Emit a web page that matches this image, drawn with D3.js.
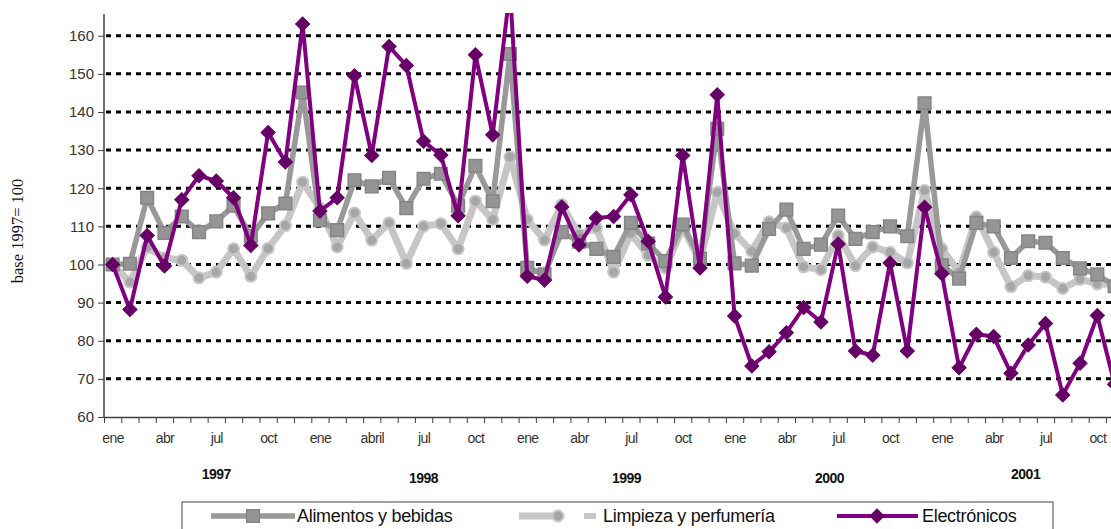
<!DOCTYPE html>
<html lang="es">
<head>
    <meta charset="UTF-8">
    <title>Índices base 1997</title>
    <script src="https://d3js.org/d3.v7.min.js"></script>
    <style>
        body { margin: 0; background: #fff; }
        text { font-family: "Liberation Sans", Arial, sans-serif; }
    </style>
</head>
<body>
    <div id="chart"></div>

    <script>
        // Monthly index, ene 1997 .. nov 2001 (base 1997 = 100)
        const alimentos = [
            100, 100.2, 117.5, 108.3, 112.6, 108.5, 111.3, 115.4, 107.4, 113.4,
            116.0, 145.1, 111.6, 109.0, 122.1, 120.5, 122.7, 114.8, 122.5, 123.8,
            115.4, 125.9, 116.6, 155.2, 99.1, 97.4, 108.5, 106.0, 104.1, 102.0,
            110.9, 105.5, 100.9, 110.5, 101.5, 135.6, 100.3, 99.7, 109.3, 114.4,
            104.1, 105.2, 112.8, 106.7, 108.5, 110.0, 107.4, 142.3, 99.8, 96.3,
            110.9, 110.0, 101.7, 106.1, 105.7, 101.7, 99.0, 97.4, 94.3
        ];
        const limpieza = [
            100, 95.4, 104.5, 101.7, 101.1, 96.5, 98.0, 104.1, 96.9, 104.2,
            110.2, 121.6, 114.8, 104.6, 113.5, 106.4, 110.9, 100.3, 110.0, 110.7,
            104.1, 116.6, 111.8, 128.2, 111.8, 106.4, 115.7, 107.9, 109.6, 98.0,
            108.1, 102.4, 99.1, 109.6, 101.0, 118.9, 108.1, 103.5, 111.2, 109.6,
            99.4, 98.7, 107.6, 99.7, 104.6, 103.2, 100.4, 119.4, 104.1, 98.0,
            112.5, 103.2, 94.2, 97.1, 96.7, 93.7, 96.1, 94.9, 94.8
        ];
        const electronicos = [
            100, 88.2, 107.6, 99.6, 117.0, 123.3, 121.9, 117.5, 105.0, 134.6,
            126.9, 163.1, 114.0, 117.5, 149.5, 128.6, 157.2, 152.2, 132.3, 128.7,
            112.8, 155.0, 134.0, 172.0, 96.9, 95.9, 115.1, 105.1, 112.2, 112.6,
            118.3, 106.1, 91.5, 128.6, 99.1, 144.5, 86.5, 73.4, 77.1, 82.1,
            88.7, 84.9, 105.4, 77.3, 76.2, 100.4, 77.3, 115.0, 97.6, 72.9,
            81.7, 81.1, 71.5, 78.9, 84.5, 65.8, 74.1, 86.6, 68.6
        ];

        const monthLabels = ["ene", "abr", "jul", "oct", "ene", "abril", "jul", "oct",
            "ene", "abr", "jul", "oct", "ene", "abr", "jul", "oct",
            "ene", "abr", "jul", "oct"];
        const yearLabels = ["1997", "1998", "1999", "2000", "2001"];
        const yearAnchor = [6, 18, 29.75, 41.5, 52.85];   // month index under which the year sits
        const yTicks = [60, 70, 80, 90, 100, 110, 120, 130, 140, 150, 160];
        const seriesNames = ["Alimentos y bebidas", "Limpieza y perfumería", "Electrónicos"];

        const W = 1111, H = 529;
        const plotLeft = 104, plotTop = 14, plotBottom = 417;
        const nMonths = 60;
        const step = 17.275;

        const svg = d3.select("#chart").append("svg")
            .attr("width", W).attr("height", H)
            .style("display", "block");

        const x = d3.scaleLinear()
            .domain([-0.5, nMonths - 0.5])
            .range([plotLeft, plotLeft + nMonths * step]);

        const y = d3.scaleLinear()
            .domain([60, 165.7])
            .range([plotBottom, plotTop]);

        svg.append("defs").append("clipPath").attr("id", "plot")
            .append("rect")
            .attr("x", plotLeft).attr("y", plotTop - 1)
            .attr("width", W - plotLeft).attr("height", plotBottom - plotTop + 1);

        // dotted gridlines
        svg.append("g")
            .selectAll("line")
            .data(yTicks.filter(d => d > 60))
            .join("line")
            .attr("x1", plotLeft + 2).attr("x2", W)
            .attr("y1", d => y(d)).attr("y2", d => y(d))
            .attr("stroke", "#000")
            .attr("stroke-width", 3)
            .attr("stroke-dasharray", "5,5");

        // y axis
        const yAxis = svg.append("g")
            .attr("transform", `translate(${plotLeft},0)`)
            .call(d3.axisLeft(y).tickValues(yTicks).tickSize(6).tickSizeOuter(0).tickPadding(4));
        yAxis.select(".domain").attr("stroke", "#404040").attr("stroke-width", 1.5)
            .attr("d", `M0,${plotTop}V${plotBottom}`);
        yAxis.selectAll(".tick line").attr("stroke", "#404040");
        yAxis.selectAll(".tick text")
            .attr("fill", "#333").style("font-size", "15px")
            .style("font-family", "'Liberation Sans', Arial, sans-serif");

        // x axis: ticks between months
        const xAxis = svg.append("g")
            .attr("transform", `translate(0,${plotBottom})`)
            .call(d3.axisBottom(x)
                .tickValues(d3.range(nMonths + 1).map(k => k - 0.5))
                .tickFormat("").tickSize(6).tickSizeOuter(0));
        xAxis.select(".domain").attr("stroke", "#404040").attr("stroke-width", 1.5);
        xAxis.selectAll(".tick line").attr("stroke", "#404040");

        // month labels every quarter
        const labelAxis = svg.append("g")
            .attr("transform", `translate(0,${plotBottom})`)
            .call(d3.axisBottom(x)
                .tickValues(monthLabels.map((_, i) => i * 3))
                .tickFormat((d, i) => monthLabels[i])
                .tickSize(0).tickPadding(16));
        labelAxis.select(".domain").remove();
        labelAxis.selectAll(".tick text")
            .attr("fill", "#333").style("font-size", "14px")
            .style("letter-spacing", "-0.6px")
            .style("font-family", "'Liberation Sans', Arial, sans-serif");

        // year labels
        svg.append("g")
            .selectAll("text")
            .data(yearLabels)
            .join("text")
            .attr("x", (d, i) => x(yearAnchor[i]))
            .attr("y", (d, i) => (i === 0 || i === 4) ? 479 : 483)
            .attr("text-anchor", "middle")
            .attr("font-weight", "bold")
            .style("font-size", "14px")
            .style("letter-spacing", "-0.5px")
            .attr("fill", "#111")
            .text(d => d);

        // y title
        svg.append("text")
            .attr("transform", "translate(23,231) rotate(-90)")
            .attr("text-anchor", "middle")
            .style("font-family", "'Liberation Serif', 'Times New Roman', serif")
            .style("font-size", "16.5px")
            .attr("fill", "#111")
            .text("base 1997= 100");

        const line = d3.line()
            .x((d, i) => x(i))
            .y(d => y(d));

        const styles = [
            { data: limpieza, stroke: "#c6c6c6", width: 7, sym: d3.symbolCircle, size: 95, fill: "#a6a6a6", mstroke: "#c6c6c6", mw: 2, rot: 0 },
            { data: alimentos, stroke: "#999999", width: 5.5, sym: d3.symbolSquare, size: 160, fill: "#959595", mstroke: "#858585", mw: 1.5, rot: 0 },
            { data: electronicos, stroke: "#800080", width: 4, sym: d3.symbolSquare, size: 100, fill: "#660066", mstroke: "#660066", mw: 1, rot: 45 }
        ];

        const plot = svg.append("g").attr("clip-path", "url(#plot)");

        styles.forEach(s => {
            const g = plot.append("g");
            g.append("path")
                .datum(s.data)
                .attr("fill", "none")
                .attr("stroke", s.stroke)
                .attr("stroke-width", s.width)
                .attr("stroke-linejoin", "round")
                .attr("d", line);
            g.selectAll("path.m")
                .data(s.data)
                .join("path")
                .attr("class", "m")
                .attr("transform", (d, i) => `translate(${x(i)},${y(d)}) rotate(${s.rot})`)
                .attr("d", d3.symbol(s.sym, s.size))
                .attr("fill", s.fill)
                .attr("stroke", s.mstroke)
                .attr("stroke-width", s.mw);
        });

        // legend
        const legend = svg.append("g");
        legend.append("rect")
            .attr("x", 182).attr("y", 502)
            .attr("width", 871).attr("height", 40)
            .attr("fill", "#fff")
            .attr("stroke", "#808080").attr("stroke-width", 1.5);

        const legItems = [
            { s: styles[1], x1: 211, x2: 295, mx: 253, tx: 297 },
            { s: styles[0], x1: 519, x2: 558, mx: 558, tx: 603 },
            { s: styles[2], x1: 837, x2: 918, mx: 877, tx: 922 }
        ];
        const legY = 516;
        legItems.forEach((it, i) => {
            legend.append("line")
                .attr("x1", it.x1).attr("x2", it.x2)
                .attr("y1", legY).attr("y2", legY)
                .attr("stroke", it.s.stroke).attr("stroke-width", it.s.width);
            legend.append("path")
                .attr("transform", `translate(${it.mx},${legY}) rotate(${it.s.rot})`)
                .attr("d", d3.symbol(it.s.sym, it.s.size))
                .attr("fill", it.s.fill)
                .attr("stroke", it.s.mstroke)
                .attr("stroke-width", it.s.mw);
            legend.append("text")
                .attr("x", it.tx).attr("y", legY + 6)
                .style("font-size", "18px")
                .style("letter-spacing", "-0.3px")
                .attr("fill", "#111")
                .text(seriesNames[i]);
        });
        // small swatch next to the circle marker
        legend.append("rect")
            .attr("x", 584).attr("y", legY - 3)
            .attr("width", 12).attr("height", 6)
            .attr("fill", "#c6c6c6");
    </script>
</body>
</html>
